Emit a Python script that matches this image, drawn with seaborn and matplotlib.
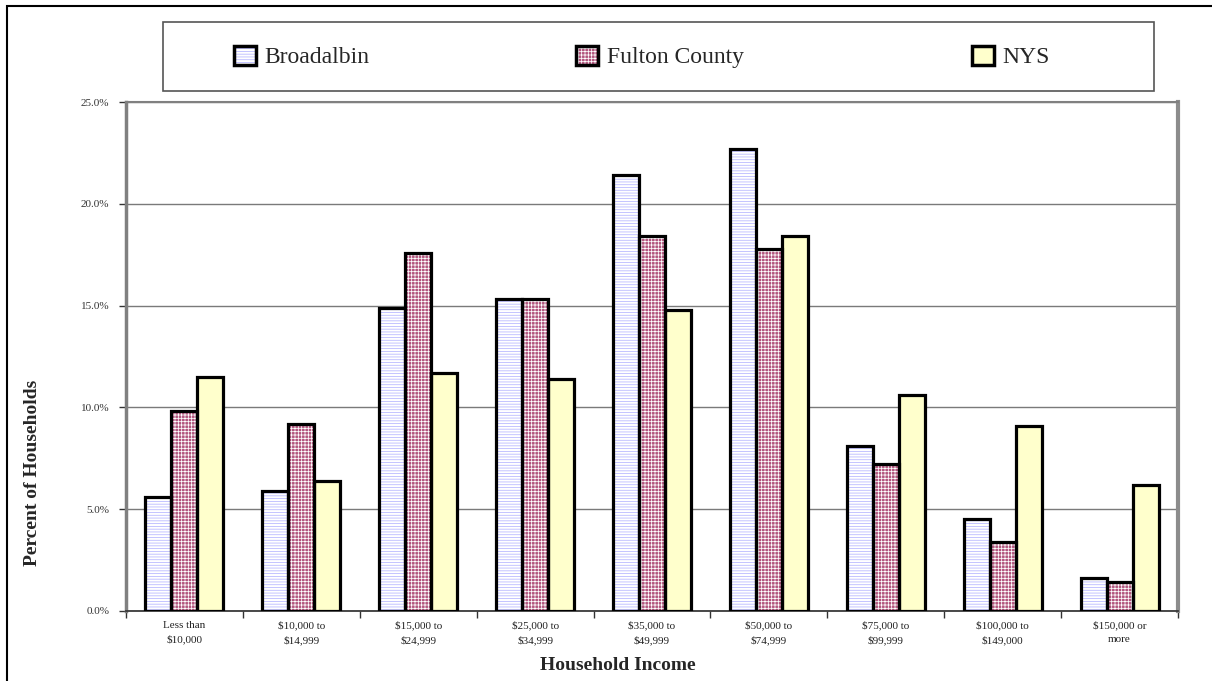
import numpy as np
import pandas as pd
import matplotlib
matplotlib.use("Agg")
import matplotlib.pyplot as plt
from matplotlib.patches import Rectangle, Patch
from matplotlib.legend_handler import HandlerTuple
import seaborn as sns

# Household income distribution (percent of households)
income_labels = [
    "Less than\n$10,000", "$10,000 to\n$14,999", "$15,000 to\n$24,999",
    "$25,000 to\n$34,999", "$35,000 to\n$49,999", "$50,000 to\n$74,999",
    "$75,000 to\n$99,999", "$100,000 to\n$149,000", "$150,000 or\nmore",
]
areas = ["Broadalbin", "Fulton County", "NYS"]
broadalbin = [5.6, 5.9, 14.9, 15.3, 21.4, 22.7, 8.1, 4.5, 1.6]
fulton_county = [9.8, 9.2, 17.6, 15.3, 18.4, 17.8, 7.2, 3.4, 1.4]
nys = [11.5, 6.4, 11.7, 11.4, 14.8, 18.4, 10.6, 9.1, 6.2]
y_ticks = [0, 5, 10, 15, 20, 25]

sns.set_style("white")
plt.rcParams["font.family"] = ["Liberation Serif", "DejaVu Serif"]
plt.rcParams["text.parse_math"] = False
plt.rcParams["hatch.linewidth"] = 0.55

df = pd.DataFrame({
    "income": income_labels * 3,
    "pct": broadalbin + fulton_county + nys,
    "area": np.repeat(areas, len(income_labels)),
})

base_colors = {"Broadalbin": "#ffffff", "Fulton County": "#b2557d", "NYS": "#ffffcc"}
hatch_styles = {"Broadalbin": ("------", "#b4b4ff"),
                "Fulton County": ("+++++", "#ffffff"),
                "NYS": (None, None)}

W, H = 1212, 681
fig = plt.figure(figsize=(W / 100, H / 100), dpi=100)
fig.patch.set_facecolor("white")
ax = fig.add_axes([126 / W, (H - 611) / H, (1178 - 126) / W, (611 - 102) / H])

sns.barplot(data=df, x="income", y="pct", hue="area", order=income_labels,
            hue_order=areas, palette=base_colors, width=0.667, gap=0,
            saturation=1, linewidth=0, errorbar=None, legend=False, ax=ax)

# hatch fills, then heavy black outlines on top
for area, container in zip(areas, ax.containers):
    hatch, hcolor = hatch_styles[area]
    for bar in container:
        if hatch:
            bar.set_hatch(hatch)
            bar.set_edgecolor(hcolor)
            bar.set_linewidth(0)
        ax.add_patch(Rectangle(bar.get_xy(), bar.get_width(), bar.get_height(),
                               fill=False, edgecolor="black", linewidth=2.3,
                               joinstyle="miter", zorder=3))

ax.set_xlim(-0.5, len(income_labels) - 0.5)
ax.set_ylim(0, 25)
ax.set_yticks(y_ticks)
ax.set_yticklabels([f"{v:.1f}%" for v in y_ticks])
ax.yaxis.grid(True, color="#7a7a7a", linewidth=1.0)
ax.xaxis.grid(False)
ax.set_axisbelow(True)
ax.set_xlabel("")
ax.set_ylabel("")

ax.tick_params(axis="y", length=5, width=1, color="#333333", pad=7,
               labelsize=8, labelcolor="#333333", left=True, direction="out")
ax.tick_params(axis="x", which="major", length=0, pad=7, labelsize=8,
               labelcolor="#222222")
ax.set_xticks(np.arange(-0.5, len(income_labels)), minor=True)
ax.tick_params(axis="x", which="minor", length=5, width=1, color="#333333",
               bottom=True, direction="out")
for t in ax.get_xticklabels():
    t.set_linespacing(1.65)
    t.set_parse_math(False)

for side, (col, lw) in {"left": ("#808080", 2.5), "right": ("#8c8c8c", 3.0),
                        "top": ("#808080", 1.5), "bottom": ("#3a3a3a", 1.3)}.items():
    ax.spines[side].set_visible(True)
    ax.spines[side].set_color(col)
    ax.spines[side].set_linewidth(lw)

fig.text(33 / W, 1 - 473 / H, "Percent of Households", rotation=90,
         ha="center", va="center", fontsize=14, fontweight="bold")
fig.text(618 / W, 1 - 665 / H, "Household Income", ha="center", va="center",
         fontsize=14, fontweight="bold")

# legend box and entries
fig.add_artist(Rectangle((163 / W, 1 - 91 / H), (1154 - 163) / W, 69 / H,
                         transform=fig.transFigure, fill=False,
                         edgecolor="#555555", linewidth=1.2))
marker_x = [234, 576, 972]
for area, mx in zip(areas, marker_x):
    hatch, hcolor = hatch_styles[area]
    fill = Patch(facecolor=base_colors[area], edgecolor=hcolor or "none",
                 hatch=hatch, linewidth=0)
    outline = Patch(facecolor="none", edgecolor="black", linewidth=2.5)
    fig.legend([(fill, outline)], [area],
               handler_map={tuple: HandlerTuple(ndivide=1, pad=0)},
               loc="center left", bbox_to_anchor=(mx / W, 1 - 57 / H),
               frameon=False, fontsize=17, handlelength=0.95, handleheight=0.85,
               handletextpad=0.35, borderpad=0, borderaxespad=0)

# outer chart border
fig.add_artist(Rectangle((7 / W, -0.1), 1.2, 1.1 - 6 / H, transform=fig.transFigure,
                         fill=False, edgecolor="black", linewidth=1.5))

fig.savefig("out.png", dpi=100)
